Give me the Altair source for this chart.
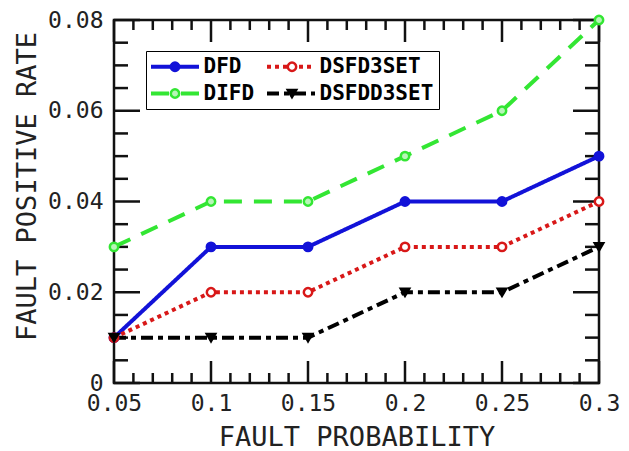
import altair as alt
import pandas as pd

# Fault probability on the x axis
fault_prob = [0.05, 0.1, 0.15, 0.2, 0.25, 0.3]

# Fault positive rate per detector
dfd = [0.01, 0.03, 0.03, 0.04, 0.04, 0.05]
difd = [0.03, 0.04, 0.04, 0.05, 0.06, 0.08]
dsfd3set = [0.01, 0.02, 0.02, 0.03, 0.03, 0.04]
dsfdd3set = [0.01, 0.01, 0.01, 0.02, 0.02, 0.03]

# Legend order (filled column by column, two columns)
series_names = ["DFD", "DIFD", "DSFD3SET", "DSFDD3SET"]
series_values = {"DFD": dfd, "DIFD": difd, "DSFD3SET": dsfd3set, "DSFDD3SET": dsfdd3set}

# Axis tick positions
x_major = [0.05, 0.1, 0.15, 0.2, 0.25, 0.3]
x_minor = [0.06, 0.07, 0.08, 0.09, 0.11, 0.12, 0.13, 0.14, 0.16, 0.17, 0.18, 0.19,
           0.21, 0.22, 0.23, 0.24, 0.26, 0.27, 0.28, 0.29]
y_major = [0.0, 0.02, 0.04, 0.06, 0.08]
y_minor = [0.005, 0.01, 0.015, 0.025, 0.03, 0.035, 0.045, 0.05, 0.055, 0.065, 0.07, 0.075]

rows = []
for k, name in enumerate(series_names):
    for xv, yv in zip(fault_prob, series_values[name]):
        # the same series name feeds the line legend and the marker legend
        rows.append({"series_l": name, "series_p": name, "order": k, "p": xv, "rate": yv})
df = pd.DataFrame(rows)

W, H = 485, 363
FONT = "DejaVu Sans Mono"

stroke_colors = ["#1212d8", "#33e633", "#d81818", "#000000"]
fill_colors = ["#1212d8", "#b8f5b8", "#ffffff", "#000000"]
dashes = [[1, 0], [18, 12], [4, 4], [12, 5, 5, 5]]
shapes = ["circle", "circle", "circle", "triangle-down"]

x_scale = alt.Scale(domain=[0.05, 0.3], nice=False, zero=False)
y_scale = alt.Scale(domain=[0, 0.08], nice=False)

x_axis = alt.Axis(values=x_major, format="~g", ticks=False, domain=False, grid=False,
                  labelFont=FONT, labelFontSize=23, labelColor="#222", labelPadding=9,
                  labelFlush=False, title="FAULT PROBABILITY", titleFont=FONT,
                  titleFontSize=27, titleFontWeight="normal", titleColor="#222",
                  titlePadding=9)
y_axis = alt.Axis(values=y_major, format="~g", ticks=False, domain=False, grid=False,
                  labelFont=FONT, labelFontSize=23, labelColor="#222", labelPadding=11,
                  labelFlush=False, title="FAULT POSITIVE RATE", titleFont=FONT,
                  titleFontSize=27, titleFontWeight="normal", titleColor="#222",
                  titleAngle=270, titleAlign="center", titleBaseline="middle",
                  titleX=-87, titleY=166)

# Legend line sample: a horizontal segment drawn as a custom symbol path
LINE_PATH = "M-4,0H4"
LEG_X, LEG_Y = 32, 31
LABEL_OFF = 18
COL_PAD = 4
line_legend = alt.Legend(orient="none", legendX=LEG_X, legendY=LEG_Y, columns=2, title=None,
                         strokeColor="black", fillColor="white", padding=5,
                         symbolType=LINE_PATH, symbolSize=144, symbolStrokeWidth=4,
                         symbolOffset=13.5, labelOffset=LABEL_OFF,
                         labelFont=FONT, labelFontSize=21, labelFontWeight="bold",
                         labelColor="black", columnPadding=COL_PAD, rowPadding=5)
point_legend = alt.Legend(orient="none", legendX=LEG_X, legendY=LEG_Y, columns=2,
                          title=None, padding=5, symbolSize=70, symbolStrokeWidth=2.5,
                          symbolOffset=13.5, labelOffset=LABEL_OFF,
                          labelFont=FONT, labelFontSize=21, labelFontWeight="bold",
                          labelColor="transparent", columnPadding=COL_PAD + 9, rowPadding=5)

X = alt.X("p:Q", scale=x_scale, axis=x_axis)
Y = alt.Y("rate:Q", scale=y_scale, axis=y_axis)
by_order = alt.EncodingSortField(field="order", op="min")

lines = alt.Chart(df).mark_line(strokeWidth=4, strokeCap="butt").encode(
    x=X, y=Y,
    stroke=alt.Stroke("series_l:N",
                      scale=alt.Scale(domain=series_names, range=stroke_colors),
                      legend=line_legend),
    strokeDash=alt.StrokeDash("series_l:N",
                              scale=alt.Scale(domain=series_names, range=dashes),
                              legend=line_legend),
)

points = alt.Chart(df).mark_point(filled=False, size=70, strokeWidth=2.5, opacity=1).encode(
    x=X, y=Y,
    color=alt.Color("series_p:N", sort=by_order,
                    scale=alt.Scale(range=stroke_colors), legend=point_legend),
    fill=alt.Fill("series_p:N", sort=by_order,
                  scale=alt.Scale(range=fill_colors), legend=point_legend),
    shape=alt.Shape("series_p:N", sort=by_order,
                    scale=alt.Scale(range=shapes), legend=point_legend),
)

# Inward tick marks on all four sides
xmaj = pd.DataFrame({"p": x_major})
xmin = pd.DataFrame({"p": x_minor})
ymaj = pd.DataFrame({"rate": y_major})
ymin = pd.DataFrame({"rate": y_minor})

def xticks(data, length):
    bottom = alt.Chart(data).mark_rule(color="#111", strokeWidth=2.5).encode(
        x=X, y=alt.value(H), y2=alt.value(H - length))
    top = alt.Chart(data).mark_rule(color="#111", strokeWidth=2.5).encode(
        x=X, y=alt.value(0), y2=alt.value(length))
    return bottom + top

def yticks(data, length):
    left = alt.Chart(data).mark_rule(color="#111", strokeWidth=2.5).encode(
        y=Y, x=alt.value(0), x2=alt.value(length))
    right = alt.Chart(data).mark_rule(color="#111", strokeWidth=2.5).encode(
        y=Y, x=alt.value(W), x2=alt.value(W - length))
    return left + right

ticks = xticks(xmaj, 22) + xticks(xmin, 10) + yticks(ymaj, 26) + yticks(ymin, 14)

chart = alt.layer(ticks, lines, points).properties(
    width=W, height=H,
    autosize=alt.AutoSizeParams(type="none"),
    padding={"left": 114, "top": 20, "right": 30, "bottom": 68},
    background="white",
).configure_view(
    stroke="#111", strokeWidth=2.5
)

chart.save("out.html", embed_options={"renderer": "svg", "actions": False})
